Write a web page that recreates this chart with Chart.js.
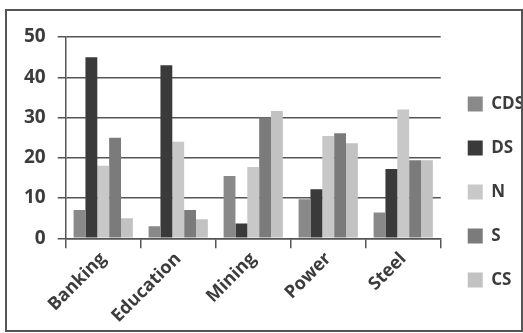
<!DOCTYPE html>
<html>
<head>
<meta charset="utf-8">
<script src="https://cdn.jsdelivr.net/npm/chart.js@4/dist/chart.umd.min.js"></script>
<style>
  html, body { margin: 0; padding: 0; background: #fff; }
  #wrap { position: relative; width: 523px; height: 333px; }
</style>
</head>
<body>
<div id="wrap"><canvas id="c" width="523" height="333"></canvas></div>
<script>
// Sectors on the x axis
const categories = ['Banking', 'Education', 'Mining', 'Power', 'Steel'];

// Values per series, one per sector
const cds = [7, 3, 15.5, 9.7, 6.4];
const ds  = [45, 43, 3.7, 12.2, 17.2];
const n   = [18, 24, 17.7, 25.4, 32];
const s   = [25, 7, 30, 26.1, 19.4];
const cs  = [5, 4.7, 31.6, 23.6, 19.4];

const seriesNames = ['CDS', 'DS', 'N', 'S', 'CS'];
const yTicks = [0, 10, 20, 30, 40, 50];

const colors = ['#898989', '#3a3a3a', '#c8c8c8', '#7b7b7b', '#c2c2c2'];
const seriesValues = [cds, ds, n, s, cs];

// Outer frame around the whole chart
const frame = {
  id: 'frame',
  afterDraw(chart) {
    const ctx = chart.ctx;
    ctx.save();
    ctx.strokeStyle = '#555';
    ctx.lineWidth = 2;
    ctx.strokeRect(6, 10, 516, 321);
    ctx.restore();
  }
};

const textColor = '#3c3c3c';
const fontFamily = '"Open Sans", Lato, sans-serif';

new Chart(document.getElementById('c'), {
  type: 'bar',
  data: {
    labels: categories,
    datasets: seriesNames.map((name, i) => ({
      label: name,
      data: seriesValues[i],
      backgroundColor: colors[i],
      borderWidth: 0,
      barPercentage: 1.0,
      categoryPercentage: 0.79
    }))
  },
  options: {
    responsive: false,
    animation: false,
    devicePixelRatio: 1,
    layout: { padding: { top: 37, right: -11, bottom: 6, left: 12 } },
    plugins: {
      tooltip: { enabled: false },
      legend: {
        position: 'right',
        align: 'center',
        title: { display: true, text: ' ', padding: { top: 8, bottom: 0 }, font: { size: 10 } },
        labels: {
          boxWidth: 15,
          boxHeight: 15,
          padding: 27,
          color: textColor,
          font: { family: fontFamily, size: 17, weight: 'bold' }
        }
      }
    },
    scales: {
      x: {
        grid: {
          display: true,
          drawOnChartArea: false,
          drawTicks: true,
          tickLength: 10,
          color: '#555',
          lineWidth: 1.5
        },
        border: { display: true, color: '#555', width: 1.5 },
        ticks: {
          color: textColor,
          maxRotation: 45,
          minRotation: 45,
          padding: 0,
          font: { family: fontFamily, size: 18, weight: 'bold' }
        }
      },
      y: {
        min: 0,
        max: 50,
        afterBuildTicks(scale) { scale.ticks = yTicks.map(v => ({ value: v })); },
        grid: {
          color: '#555',
          lineWidth: 1.5,
          tickLength: 8
        },
        border: { display: true, color: '#555', width: 1.5 },
        ticks: {
          color: textColor,
          padding: 12,
          font: { family: fontFamily, size: 19, weight: 'bold' }
        }
      }
    }
  },
  plugins: [frame]
});
</script>
</body>
</html>
